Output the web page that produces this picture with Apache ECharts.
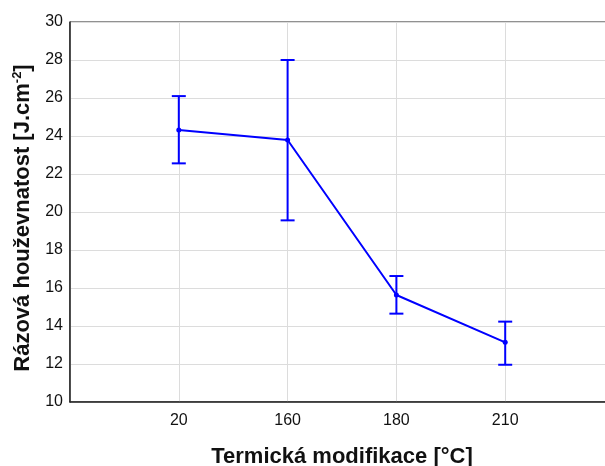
<!DOCTYPE html>
<html><head><meta charset="utf-8">
<script src="https://cdn.jsdelivr.net/npm/echarts@6/dist/echarts.min.js"></script>
<style>html,body{margin:0;padding:0;background:#fff}#c{width:605px;height:466px}</style>
</head><body><div id="c"></div>
<script>
var categories = ['20', '160', '180', '210'];
var means = [24.32, 23.79, 15.63, 13.14];
var upper = [26.1, 28.0, 16.63, 14.23];
var lower = [22.56, 19.56, 14.65, 11.96];
var yTicks = [10, 12, 14, 16, 18, 20, 22, 24, 26, 28, 30];

var lineData = means.map(function (v, i) { return [i + 1, v]; });
var errData = means.map(function (v, i) { return [i + 1, lower[i], upper[i]]; });

var chart = echarts.init(document.getElementById('c'));
chart.setOption({
  animation: false,
  grid: { left: 70, top: 22, width: 544, height: 380, outerBoundsMode: 'none', containLabel: false,
          show: true, borderColor: '#222', borderWidth: 1, backgroundColor: 'transparent' },
  xAxis: {
    type: 'value', min: 0, max: 5, interval: 1,
    axisLine: { show: true, lineStyle: { color: '#222', width: 1.5 } },
    axisTick: { show: false },
    splitLine: { show: true, lineStyle: { color: '#dcdcdc', width: 1 } },
    axisLabel: {
      color: '#111', fontSize: 16, fontFamily: 'Liberation Sans, Arial', margin: 11,
      formatter: function (v) { return (v >= 1 && v <= categories.length) ? categories[v - 1] : ''; }
    },
    name: 'Termická modifikace [°C]', nameLocation: 'middle', nameGap: 44,
    nameTextStyle: { color: '#111', fontSize: 22, fontWeight: 'bold', fontFamily: 'Liberation Sans, Arial' }
  },
  yAxis: {
    type: 'value', min: yTicks[0], max: yTicks[yTicks.length - 1], interval: 2,
    axisLine: { show: true, lineStyle: { color: '#222', width: 1.5 } },
    axisTick: { show: false },
    splitLine: { show: true, lineStyle: { color: '#dcdcdc', width: 1 } },
    axisLabel: { color: '#111', fontSize: 16, fontFamily: 'Liberation Sans, Arial', margin: 7 },
    name: 'Rázová houževnatost [J.cm{sup|-2}]', nameLocation: 'middle', nameGap: 36,
    nameTextStyle: {
      color: '#111', fontSize: 22, fontWeight: 'bold', fontFamily: 'Liberation Sans, Arial', padding: [0, 12, 0, 0],
      rich: { sup: { fontSize: 13, fontWeight: 'bold', color: '#111', fontFamily: 'Liberation Sans, Arial', verticalAlign: 'top', padding: [0, 0, 10, 0] } }
    }
  },
  series: [
    {
      type: 'line', data: lineData, symbol: 'circle', symbolSize: 5,
      lineStyle: { color: '#0000ff', width: 2 }, itemStyle: { color: '#0000ff' }, z: 3
    },
    {
      type: 'custom', data: errData, z: 4,
      renderItem: function (params, api) {
        var x = api.value(0);
        var lo = api.coord([x, api.value(1)]);
        var hi = api.coord([x, api.value(2)]);
        var w = 7;
        var st = { stroke: '#0000ff', lineWidth: 2, fill: null };
        return { type: 'group', children: [
          { type: 'line', shape: { x1: lo[0], y1: lo[1], x2: hi[0], y2: hi[1] }, style: st },
          { type: 'line', shape: { x1: lo[0] - w, y1: lo[1], x2: lo[0] + w, y2: lo[1] }, style: st },
          { type: 'line', shape: { x1: hi[0] - w, y1: hi[1], x2: hi[0] + w, y2: hi[1] }, style: st }
        ]};
      }
    }
  ]
});
</script></body></html>
